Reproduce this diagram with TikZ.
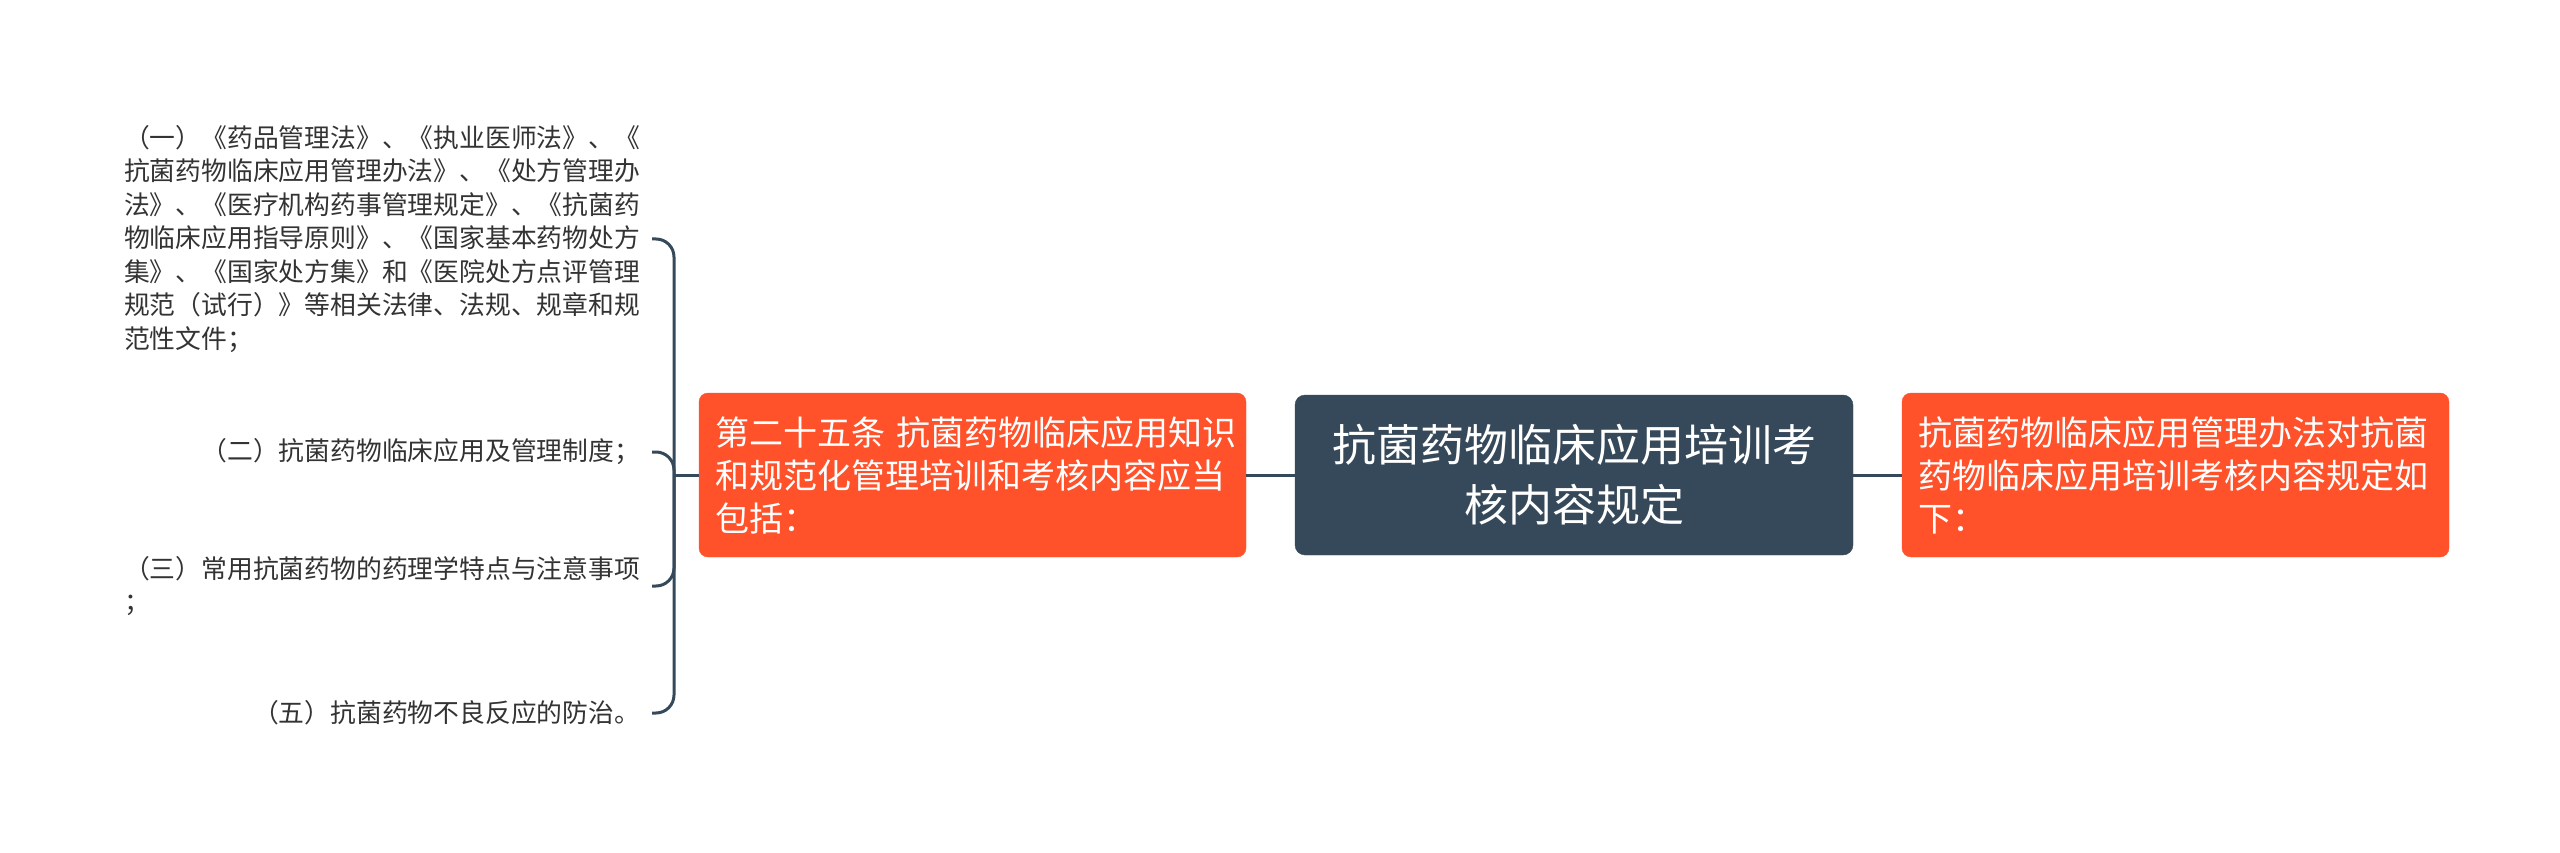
\documentclass[tikz,border=0pt]{standalone}
\usepackage{fontspec}
\setmainfont{Noto Sans CJK SC}
\usetikzlibrary{calc}
\definecolor{slate}{HTML}{36495A}
\definecolor{orng}{HTML}{FF512A}
\definecolor{leaftext}{HTML}{333333}
\tikzset{
  leaf/.style={anchor=east, inner xsep=12pt, inner ysep=0pt, outer sep=0pt,
    font=\fontsize{25.8pt}{33.5pt}\selectfont, text=leaftext, align=left},
  orangebox/.style={fill=orng, draw=orng, rounded corners=9pt, text=white,
    minimum width=547pt, minimum height=164pt, inner xsep=16pt, outer sep=0pt,
    text width=515pt, align=left, font=\fontsize{34pt}{43pt}\selectfont},
  rootbox/.style={fill=slate, draw=slate, rounded corners=10pt, text=white,
    minimum width=558pt, minimum height=160pt, outer sep=0pt, align=center,
    font=\fontsize{44pt}{60pt}\selectfont},
  conn/.style={draw=slate, line width=3pt},
  branch/.style={conn, rounded corners=18pt}
}
\begin{document}
\begin{tikzpicture}[x=1pt, y=-1pt]
\useasboundingbox[fill=white] (0,0) rectangle (2560,853);

\node[rootbox] (root) at (1574,475) {抗菌药物临床应用培训考\\核内容规定};
\node[orangebox] (l1) at (972.5,475) {第二十五条~抗菌药物临床应用知识\\和规范化管理培训和考核内容应当\\包括：};
\node[orangebox] (r1) at (2175.5,475) {抗菌药物临床应用管理办法对抗菌\\药物临床应用培训考核内容规定如\\下：};

\node[leaf] (a) at (652,239) {（一）《药品管理法》、《执业医师法》、《\\抗菌药物临床应用管理办法》、《处方管理办\\法》、《医疗机构药事管理规定》、《抗菌药\\物临床应用指导原则》、《国家基本药物处方\\集》、《国家处方集》和《医院处方点评管理\\规范（试行）》等相关法律、法规、规章和规\\范性文件；};
\node[leaf] (b) at (652,452) {（二）抗菌药物临床应用及管理制度；};
\node[leaf] (c) at (652,586) {（三）常用抗菌药物的药理学特点与注意事项\\；};
\node[leaf] (d) at (652,713) {（五）抗菌药物不良反应的防治。};

\draw[conn] (root.west) -- (l1.east);
\draw[conn] (root.east) -- (r1.west);

\coordinate (j) at ($(l1.west)+(-25,0)$);
\draw[conn] (l1.west) -- (j);
\draw[branch] (j) |- (a.east);
\draw[branch] (j) |- (b.east);
\draw[branch] (j) |- (c.east);
\draw[branch] (j) |- (d.east);
\end{tikzpicture}
\end{document}
